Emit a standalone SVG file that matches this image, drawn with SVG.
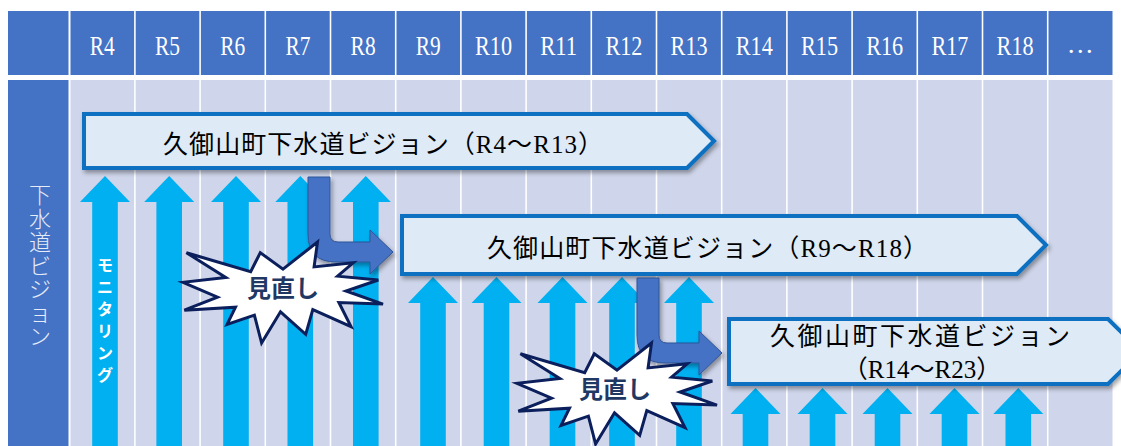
<svg xmlns="http://www.w3.org/2000/svg" width="1121" height="446" viewBox="0 0 1121 446">
<style>
.hd{fill:#4472C4}
.bd{fill:#CFD5EA}
.hl{font-family:'Liberation Serif',serif;font-size:27px;fill:#fff;text-anchor:middle}
.up{fill:#00B0F0}
.big{fill:#DEEAF6;stroke:#0A6FC0;stroke-width:4;stroke-linejoin:miter}
.tt{font-family:'Liberation Serif','Noto Sans CJK JP',sans-serif;font-size:25px;fill:#000}
.bent{fill:#4472C4;stroke:#2F5597;stroke-width:1}
.star{fill:#fff;stroke:#0B1F5C;stroke-width:3;stroke-linejoin:miter}
.st{font-family:'Noto Sans CJK JP',sans-serif;font-size:24px;font-weight:bold;fill:#1F3864;text-anchor:middle}
.vt{font-family:'Noto Sans CJK JP',sans-serif;font-size:22px;font-weight:300;fill:#E6ECF8;text-anchor:middle}
.mt{font-family:'Noto Sans CJK JP',sans-serif;font-size:16px;font-weight:bold;fill:#fff;text-anchor:middle}
</style>
<defs>
<filter id="sh" x="-5%" y="-20%" width="115%" height="150%"><feDropShadow dx="2" dy="3" stdDeviation="2" flood-color="#000" flood-opacity="0.35"/></filter>
<path id="uparrow" d="M0,0 L25,26 L12.8,26 L12.8,300 L-12.8,300 L-12.8,26 L-25,26 Z"/>
<path id="burst" d="M100,27.1 L134.5,0 L131.1,24.9 L170.2,20.8 L154.6,34.2 L195.3,38 L163,49 L200,62.1 L155.9,60.5 L168,84.6 L129.8,67.6 L122.7,92.3 L97.5,69.8 L78.6,101 L71.4,73.1 L44.1,82.4 L52.5,65.2 L1.3,68.2 L34.5,55.1 L0,40.3 L42.8,35.6 L3.4,10.7 L67.7,29.6 L77.3,10.7 Z"/>
<path id="bentarrow" d="M0,0 H22 V57 Q22,65 30,65 H62 V53 L85,75 L62,97 V85 H28 Q0,85 0,57 Z"/>
</defs>

<g id="grid">
<rect class="hd" x="8" y="11" width="60.5" height="64"/>
<rect class="hd" x="8" y="80" width="60.5" height="366"/>
<g id="header-cells">
<rect class="hd" x="70.5" y="11" width="63.6" height="64"/>
<rect class="hd" x="135.7" y="11" width="63.6" height="64"/>
<rect class="hd" x="200.9" y="11" width="63.6" height="64"/>
<rect class="hd" x="266.1" y="11" width="63.6" height="64"/>
<rect class="hd" x="331.3" y="11" width="63.6" height="64"/>
<rect class="hd" x="396.5" y="11" width="63.6" height="64"/>
<rect class="hd" x="461.7" y="11" width="63.6" height="64"/>
<rect class="hd" x="526.9" y="11" width="63.6" height="64"/>
<rect class="hd" x="592.1" y="11" width="63.6" height="64"/>
<rect class="hd" x="657.3" y="11" width="63.6" height="64"/>
<rect class="hd" x="722.5" y="11" width="63.6" height="64"/>
<rect class="hd" x="787.7" y="11" width="63.6" height="64"/>
<rect class="hd" x="852.9" y="11" width="63.6" height="64"/>
<rect class="hd" x="918.1" y="11" width="63.6" height="64"/>
<rect class="hd" x="983.3" y="11" width="63.6" height="64"/>
<rect class="hd" x="1048.5" y="11" width="64" height="64"/>
</g>
<g id="body-cells">
<rect class="bd" x="70.5" y="80" width="63.6" height="366"/>
<rect class="bd" x="135.7" y="80" width="63.6" height="366"/>
<rect class="bd" x="200.9" y="80" width="63.6" height="366"/>
<rect class="bd" x="266.1" y="80" width="63.6" height="366"/>
<rect class="bd" x="331.3" y="80" width="63.6" height="366"/>
<rect class="bd" x="396.5" y="80" width="63.6" height="366"/>
<rect class="bd" x="461.7" y="80" width="63.6" height="366"/>
<rect class="bd" x="526.9" y="80" width="63.6" height="366"/>
<rect class="bd" x="592.1" y="80" width="63.6" height="366"/>
<rect class="bd" x="657.3" y="80" width="63.6" height="366"/>
<rect class="bd" x="722.5" y="80" width="63.6" height="366"/>
<rect class="bd" x="787.7" y="80" width="63.6" height="366"/>
<rect class="bd" x="852.9" y="80" width="63.6" height="366"/>
<rect class="bd" x="918.1" y="80" width="63.6" height="366"/>
<rect class="bd" x="983.3" y="80" width="63.6" height="366"/>
<rect class="bd" x="1048.5" y="80" width="64" height="366"/>
</g>
<g id="header-labels">
<text class="hl" x="102.3" y="55" textLength="25" lengthAdjust="spacingAndGlyphs">R4</text>
<text class="hl" x="167.5" y="55" textLength="25" lengthAdjust="spacingAndGlyphs">R5</text>
<text class="hl" x="232.7" y="55" textLength="25" lengthAdjust="spacingAndGlyphs">R6</text>
<text class="hl" x="297.9" y="55" textLength="25" lengthAdjust="spacingAndGlyphs">R7</text>
<text class="hl" x="363.1" y="55" textLength="25" lengthAdjust="spacingAndGlyphs">R8</text>
<text class="hl" x="428.3" y="55" textLength="25" lengthAdjust="spacingAndGlyphs">R9</text>
<text class="hl" x="493.5" y="55" textLength="37" lengthAdjust="spacingAndGlyphs">R10</text>
<text class="hl" x="558.7" y="55" textLength="37" lengthAdjust="spacingAndGlyphs">R11</text>
<text class="hl" x="623.9" y="55" textLength="37" lengthAdjust="spacingAndGlyphs">R12</text>
<text class="hl" x="689.1" y="55" textLength="37" lengthAdjust="spacingAndGlyphs">R13</text>
<text class="hl" x="754.3" y="55" textLength="37" lengthAdjust="spacingAndGlyphs">R14</text>
<text class="hl" x="819.5" y="55" textLength="37" lengthAdjust="spacingAndGlyphs">R15</text>
<text class="hl" x="884.7" y="55" textLength="37" lengthAdjust="spacingAndGlyphs">R16</text>
<text class="hl" x="949.9" y="55" textLength="37" lengthAdjust="spacingAndGlyphs">R17</text>
<text class="hl" x="1015.1" y="55" textLength="37" lengthAdjust="spacingAndGlyphs">R18</text>
<text class="hl" x="1080.3" y="53">…</text>
</g>
</g>

<g id="row-label">
<text class="vt" x="40 40 40 40 40 40 40" y="203 226.5 250 273.5 297 320.5 344">下水道ビジョン</text>
</g>

<g id="connectors">
<g id="monitoring-arrows-1">
<use href="#uparrow" class="up" x="105" y="176"/>
<use href="#uparrow" class="up" x="169.2" y="176"/>
<use href="#uparrow" class="up" x="236" y="176"/>
<use href="#uparrow" class="up" x="300.3" y="176"/>
<use href="#uparrow" class="up" x="365.8" y="176"/>
</g>
<g id="monitoring-arrows-2">
<use href="#uparrow" class="up" x="433" y="277"/>
<use href="#uparrow" class="up" x="496.5" y="277"/>
<use href="#uparrow" class="up" x="562.5" y="277"/>
<use href="#uparrow" class="up" x="622" y="277"/>
<use href="#uparrow" class="up" x="689" y="277"/>
</g>
<g id="monitoring-arrows-3">
<use href="#uparrow" class="up" x="755.5" y="388"/>
<use href="#uparrow" class="up" x="822.5" y="388"/>
<use href="#uparrow" class="up" x="887.5" y="388"/>
<use href="#uparrow" class="up" x="954.5" y="388"/>
<use href="#uparrow" class="up" x="1018.3" y="388"/>
</g>
<text class="mt" x="105 105 105 105 105 105" y="271 293 315 337 359 381">モニタリング</text>
</g>

<g id="vision-1">
<path class="big" filter="url(#sh)" d="M84,114 H687 L714,141 L687,168 H84 Z"/>
<text class="tt" x="163" y="153" textLength="440" lengthAdjust="spacing">久御山町下水道ビジョン（R4〜R13）</text>
</g>
<g id="vision-2">
<path class="big" filter="url(#sh)" d="M402,216 H1017 L1046,245 L1017,274 H402 Z"/>
<text class="tt" x="487" y="257" textLength="441" lengthAdjust="spacing">久御山町下水道ビジョン（R9〜R18）</text>
</g>
<g id="vision-3">
<path class="big" filter="url(#sh)" d="M729,319 H1108 L1141,351.5 L1108,384 H729 Z"/>
<text class="tt" x="770" y="345" textLength="300" lengthAdjust="spacing">久御山町下水道ビジョン</text>
<text class="tt" x="922" y="378" text-anchor="middle">（R14〜R23）</text>
</g>

<g id="transition-1">
<use href="#bentarrow" class="bent" x="308" y="177" filter="url(#sh)"/>
</g>
<g id="transition-2">
<use href="#bentarrow" class="bent" x="637" y="278" filter="url(#sh)"/>
</g>

<g id="review-1">
<use href="#burst" class="star" x="183" y="242"/>
<text class="st" x="283" y="297">見直し</text>
</g>
<g id="review-2">
<use href="#burst" class="star" x="517" y="343"/>
<text class="st" x="615" y="398">見直し</text>
</g>
</svg>
